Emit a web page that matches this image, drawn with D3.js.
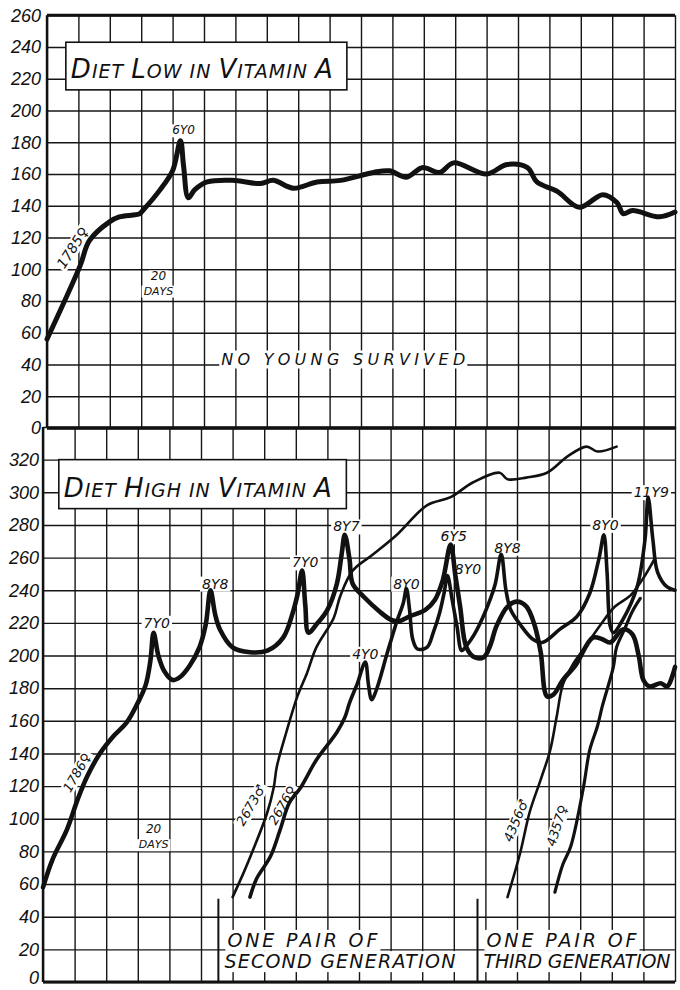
<!DOCTYPE html>
<html>
<head>
<meta charset="utf-8">
<script src="https://cdn.jsdelivr.net/npm/d3@7"></script>
<style>
body { margin: 0; background: #fff; }
svg { display: block; }
text { font-family: "DejaVu Sans", sans-serif; font-style: italic; fill: #111; }
.grid line { stroke: #161616; stroke-width: 1.4; }
.grid .domain { display: none; }
.ylab .domain { display: none; }
.curve { fill: none; stroke: #111; stroke-linecap: round; stroke-linejoin: round; }
</style>
</head>
<body>
<svg class="canvas"></svg>
<script>
// --- data: x = age in days, y = body weight in grams ---

var DAY_TICKS = d3.range(0, 401, 20);
var LOW_TICKS = d3.range(0, 261, 20);
var HIGH_TICKS = d3.range(0, 321, 20);
var HIGH_GRID = d3.range(0, 341, 20);

// diet low in vitamin A, rat 1785
var lowDays  = [0,21,27,40,46,59,61,72,80,85,87,90,94,102,118,136,144,157,172,187,208,218,229,239,250,259,280,293,306,312,325,339,354,363,367,373,390,400];
var lowGrams = [56,102,118,130,133,135,137,150,162,181,165,145,150,155,156,154,156,151,155,156,161,162,158,164,161,167,160,166,164,155,149,139,147,142,135,137,133,136];

// diet high in vitamin A
var momDays  = [0,6,15,22,28,36,44,53,60,65,68,70,73,77,82,87,93,99,103,106,109,112,120,131,142,152,158,161,164,166,168,173,180,186,189,191,194,196,203,213,220,225,232,242,248,253,258,261,264,268,273,279,283,287,294,300,306,311,315,319,323,329,337,348,354,359,367,373,377,380,384,391,395,400];
var momGrams = [58,75,93,112,126,140,150,159,171,182,197,214,200,190,185,187,194,205,219,240,225,216,205,202,203,211,226,237,252,231,214,219,228,244,262,274,259,244,236,227,222,221,224,228,234,246,268,249,230,205,199,199,206,218,230,233,230,219,202,175,176,185,194,211,210,208,216,213,200,185,181,183,181,193];

var sonDays  = [120,127,133,142,146,148,154,161,167,173,184,188,196,209,224,243,258,272,289,294,306,319,332,344,351,363];
var sonGrams = [52,67,81,104,119,132,153,175,189,205,223,236,252,262,274,292,297,306,312,308,309,312,322,328,325,328];

var daughterDays  = [131,135,144,150,156,163,173,186,191,194,199,204,206,208,211,218,224,228,230,232,234,237,243,247,251,254,256,259,262,265,268,273,280,286,290,293,296,302,310,316,327,338,346,352,355,357,359,361,367,376,381,383,386,389,395,400];
var daughterGrams = [52,63,77,93,110,119,136,153,162,171,183,196,182,173,179,202,221,232,241,228,210,204,205,214,226,239,249,234,218,203,206,213,227,243,262,240,228,219,210,208,216,224,238,260,274,251,218,214,222,242,271,297,271,251,242,240];

var gsonDays  = [294,302,308,315,321,325,329,335,343,353,362,372,381,387];
var gsonGrams = [52,79,104,124,142,162,182,194,205,219,230,237,249,259];

var gdauDays  = [324,329,334,342,346,351,354,361,363,368,373,378];
var gdauGrams = [55,72,83,119,142,157,169,193,205,216,227,235];

// litters (young born / young weaned) and where they are written
var lowLitterText = ["6Y0"];
var lowLitterDay  = [87];
var lowLitterGram = [185];

var litterText = ["7Y0","8Y8","7Y0","8Y7","4Y0","8Y0","6Y5","8Y0","8Y8","8Y0","11Y9"];
var litterDay  = [72,109,166,192,204,230,260,269,294,356,385];
var litterGram = [217,241,254,276,198,241,270,250,263,277,297];

var nameText = ["1786♀","2673♂","2676♀","4356♂","4357♀"];
var nameDay  = [24,134,154,302,328];
var nameGram = [127,107,107,98,95];

var width = 680,
	height = 990;

var svg = d3.select(".canvas")
	.attr("width", width)
	.attr("height", height);

var xLow = d3.scaleLinear().domain([0, 400]).range([47, 675]);
var yLow = d3.scaleLinear().domain([0, 260]).range([428, 15.25]);
var xHigh = d3.scaleLinear().domain([0, 400]).range([43, 675]);
var yHigh = d3.scaleLinear().domain([0, 340]).range([982, 427]);

function drawGrid(x, y, yTicks) {
	var x0 = x.range()[0], x1 = x.range()[1], y0 = y.range()[0], y1 = y.range()[1];
	svg.append("g").attr("class", "grid")
		.attr("transform", "translate(0," + y0 + ")")
		.call(d3.axisBottom(x).tickValues(DAY_TICKS).tickSize(-(y0 - y1)).tickFormat(""));
	svg.append("g").attr("class", "grid")
		.attr("transform", "translate(" + x0 + ",0)")
		.call(d3.axisLeft(y).tickValues(yTicks).tickSize(-(x1 - x0)).tickFormat(""));
}

function drawLabels(x, y, ticks, pad) {
	var g = svg.append("g").attr("class", "ylab")
		.attr("transform", "translate(" + x.range()[0] + ",0)")
		.call(d3.axisLeft(y).tickValues(ticks).tickSize(0).tickPadding(pad));
	g.selectAll("text")
		.style("font-family", "'Liberation Sans', sans-serif")
		.style("font-size", "18px")
		.style("font-style", "italic")
		.style("fill", "#111");
	return g;
}

drawGrid(xLow, yLow, LOW_TICKS);
drawGrid(xHigh, yHigh, HIGH_GRID);
drawLabels(xLow, yLow, LOW_TICKS, 6);
drawLabels(xHigh, yHigh, HIGH_TICKS, 4)
	.selectAll(".tick text").filter(function(d) { return d === 0; })
	.attr("dy", "0.1em");

var notes = svg.append("g");

// text on a white patch that hides the grid under it
function label(px, py, str, size, anchor, angle, spread) {
	var g = notes.append("g")
		.attr("transform", "translate(" + px + "," + py + ")" + (angle ? " rotate(" + angle + ")" : ""));
	var bg = g.append("rect").attr("fill", "#fff");
	var t = g.append("text")
		.attr("font-size", size)
		.attr("text-anchor", anchor)
		.text(str);
	if (spread) t.attr("textLength", spread).attr("lengthAdjust", "spacing");
	var b = t.node().getBBox();
	bg.attr("x", b.x - 2).attr("y", b.y + 1).attr("width", b.width + 4).attr("height", b.height - 1);
	return t;
}

// hand lettered titles: capitals tall, the rest in small capitals
function title(d0, g0, d1, g1, str, x, y, len) {
	svg.append("rect")
		.attr("x", x(d0)).attr("y", y(g0))
		.attr("width", x(d1) - x(d0)).attr("height", y(g1) - y(g0))
		.attr("fill", "#fff").attr("stroke", "#111").attr("stroke-width", 1.6);
	var t = svg.append("text")
		.attr("x", x(d0) + 5).attr("y", y(g1) - 12)
		.attr("textLength", len).attr("lengthAdjust", "spacing");
	var runs = [];
	str.split("").forEach(function(ch) {
		var big = ch !== " " && ch === ch.toUpperCase();
		var last = runs[runs.length - 1];
		if (last && last.big === big) last.s += ch;
		else runs.push({ big: big, s: ch });
	});
	runs.forEach(function(r) {
		t.append("tspan").attr("font-size", r.big ? 26 : 19).text(r.s.toUpperCase());
	});
}

title(12, 243, 191, 213, "Diet Low in Vitamin A", xLow, yLow, 262);
title(10, 320, 192, 290, "Diet High in Vitamin A", xHigh, yHigh, 268);

// litter marks
lowLitterText.forEach(function(s, i) {
	label(xLow(lowLitterDay[i]), yLow(lowLitterGram[i]), s, 12, "middle");
});
litterText.forEach(function(s, i) {
	label(xHigh(litterDay[i]), yHigh(litterGram[i]), s, 14, "middle");
});

// rat numbers along their curves
var nameTilt = [-60, -60, -60, -67, -72];
label(xLow(19), yLow(112), "1785♀", 14, "middle", -57);
nameText.forEach(function(s, i) {
	label(xHigh(nameDay[i]), yHigh(nameGram[i]), s, 13, "middle", nameTilt[i]);
});

// twenty-day scale notes
label(xLow(71), yLow(93), "20", 12, "middle");
label(xLow(71), yLow(84), "DAYS", 11, "middle");
label(xHigh(70), yHigh(91), "20", 12, "middle");
label(xHigh(70), yHigh(82), "DAYS", 11, "middle");

label(xLow(111), yLow(40), "NO YOUNG SURVIVED", 16, "start", 0, 244);

// generation blocks
[[111, "ONE PAIR OF", "SECOND GENERATION", 231], [275, "ONE PAIR OF", "THIRD GENERATION", 187]].forEach(function(b) {
	svg.append("line")
		.attr("x1", xHigh(b[0])).attr("x2", xHigh(b[0]))
		.attr("y1", yHigh(51)).attr("y2", yHigh(0))
		.attr("stroke", "#111").attr("stroke-width", 2);
	label(xHigh(b[0]) + 9, yHigh(21.5), b[1], 19, "start", 0, 150);
	label(xHigh(b[0]) + 6, yHigh(8.5), b[2], 19, "start", 0, b[3]);
});

// growth curves
function curve(x, y, days, grams, w) {
	var line = d3.line()
		.x(function(d) { return x(d[0]); })
		.y(function(d) { return y(d[1]); })
		.curve(d3.curveCatmullRom.alpha(0.5));
	svg.append("path")
		.attr("class", "curve")
		.attr("stroke-width", w)
		.attr("d", line(d3.zip(days, grams)));
}

curve(xLow, yLow, lowDays, lowGrams, 5);
curve(xHigh, yHigh, momDays, momGrams, 4.6);
curve(xHigh, yHigh, sonDays, sonGrams, 2.6);
curve(xHigh, yHigh, daughterDays, daughterGrams, 3.6);
curve(xHigh, yHigh, gsonDays, gsonGrams, 2.6);
curve(xHigh, yHigh, gdauDays, gdauGrams, 3.2);

// heavy frame lines
function rule(x1, y1, x2, y2, w) {
	svg.append("line")
		.attr("x1", x1).attr("y1", y1).attr("x2", x2).attr("y2", y2)
		.attr("stroke", "#111").attr("stroke-width", w);
}
rule(xLow(0), yLow(260), xLow(400), yLow(260), 3);
rule(xLow(0), yLow(0), xLow(400), yLow(0), 3.5);
rule(xHigh(0), yHigh(0), xHigh(400), yHigh(0), 3);
rule(xLow(0), yLow(260), xLow(0), yLow(0), 2.4);
rule(xHigh(0), yHigh(340), xHigh(0), yHigh(0), 2.4);
</script>
</body>
</html>
